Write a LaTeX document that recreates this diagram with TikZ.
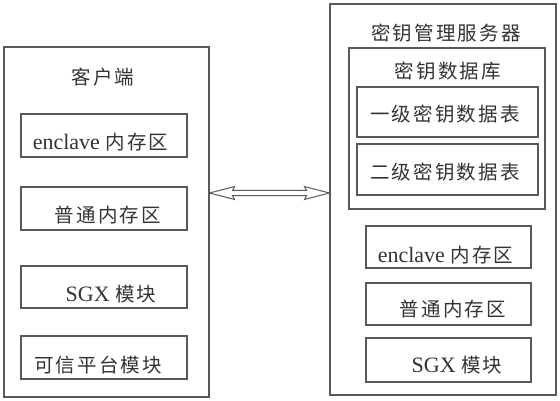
\documentclass[tikz,border=0pt]{standalone}
\usepackage{fontspec}
\setmainfont{Liberation Serif}
\newfontfamily\cjk[LetterSpace=11]{Noto Sans CJK SC}
\usetikzlibrary{calc}
\tikzset{
  x=1pt, y=-1pt,
  frame/.style={draw=black!65, line width=1.1pt, rectangle, inner sep=0pt},
  txt/.style={text=black!80, font=\fontsize{22}{24}\selectfont, inner sep=0pt},
}
\newcommand{\zh}[1]{{\cjk\fontsize{19.5}{22}\selectfont #1}}
\begin{document}
\begin{tikzpicture}
\useasboundingbox (0,0) rectangle (560,400);
% client
\node[frame, minimum width=205pt, minimum height=350pt] (client) at (106.5,222) {};
\node[txt] (ctitle) at (103,77) {\zh{客户端}};
\node[frame, minimum width=166pt, minimum height=43pt,
  label={[txt, xshift=-3.5pt, yshift=-7pt]center:enclave \zh{内存区}}] (cb1) at (104,135.5) {};
\node[frame, minimum width=166pt, minimum height=43pt,
  label={[txt, xshift=4pt, yshift=-6.5pt]center:\zh{普通内存区}}] (cb2) at (104,208.5) {};
\node[frame, minimum width=166pt, minimum height=42pt,
  label={[txt, xshift=7pt, yshift=-7pt]center:SGX \zh{模块}}] (cb3) at (104,287) {};
\node[frame, minimum width=166pt, minimum height=43pt,
  label={[txt, xshift=-6pt, yshift=-7.5pt]center:\zh{可信平台模块}}] (cb4) at (104,357.5) {};
% server
\node[frame, minimum width=226pt, minimum height=391pt] (server) at (443,199.5) {};
\node[txt] (stitle) at (446,33.5) {\zh{密钥管理服务器}};
\node[frame, minimum width=196pt, minimum height=161pt] (db) at (447,128.5) {};
\node[txt] (dbtitle) at (448,71.5) {\zh{密钥数据库}};
\node[frame, minimum width=181pt, minimum height=50pt,
  label={[txt, xshift=-2.5pt, yshift=-2.5pt]center:\zh{一级密钥数据表}}] (t1) at (447.5,112) {};
\node[frame, minimum width=181pt, minimum height=51pt,
  label={[txt, xshift=-2.5pt, yshift=-3pt]center:\zh{二级密钥数据表}}] (t2) at (447.5,169.5) {};
\node[frame, minimum width=165pt, minimum height=42pt,
  label={[txt, xshift=-3pt, yshift=-8pt]center:enclave \zh{内存区}}] (sb1) at (448.5,247) {};
\node[frame, minimum width=165pt, minimum height=42pt,
  label={[txt, xshift=4.5pt, yshift=-5.5pt]center:\zh{普通内存区}}] (sb2) at (448.5,304) {};
\node[frame, minimum width=165pt, minimum height=44pt,
  label={[txt, xshift=8.5pt, yshift=-5.5pt]center:SGX \zh{模块}}] (sb3) at (448.5,360) {};
% double arrow
\coordinate (aL) at ([yshift=29pt]client.east);
\coordinate (aR) at ([yshift=6.5pt]server.west);
\draw[draw=black!65, line width=1pt, line join=miter]
  (aL) -- ($(aL)+(25,-6.5)$) -- ($(aL)+(23,-2.7)$) -- ($(aR)+(-23,-2.7)$)
  -- ($(aR)+(-25,-6.5)$) -- (aR) -- ($(aR)+(-25,6.5)$) -- ($(aR)+(-23,2.7)$)
  -- ($(aL)+(23,2.7)$) -- ($(aL)+(25,6.5)$) -- cycle;
\end{tikzpicture}
\end{document}
